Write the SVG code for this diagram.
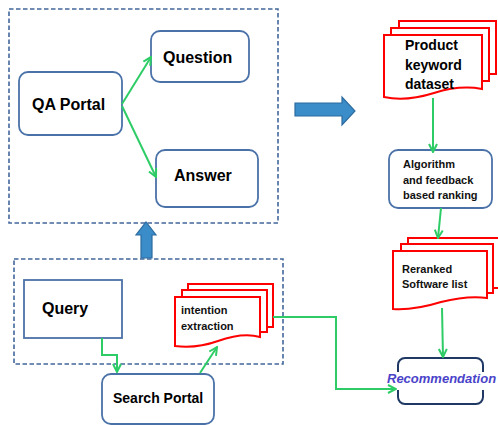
<svg xmlns="http://www.w3.org/2000/svg" width="498" height="425" viewBox="0 0 498 425">
<style>
.dash{fill:none;stroke:#41679a;stroke-width:1.6;stroke-dasharray:4.5,2.5}
.box{fill:#fff;stroke:#4b72a8;stroke-width:1.8}
.doc{fill:#fff;stroke:#ff0000;stroke-width:2}
.big{font-family:"Liberation Sans",Arial,sans-serif;font-weight:bold;font-size:16px;fill:#000}
.mid{font-family:"Liberation Sans",Arial,sans-serif;font-weight:bold;font-size:14px;fill:#000}
.sm{font-family:"Liberation Sans",Arial,sans-serif;font-weight:bold;font-size:11px;fill:#111}
.rec{font-family:"Liberation Sans",Arial,sans-serif;font-weight:bold;font-style:italic;font-size:13px;fill:#4a43c9}
.con{fill:none;stroke:#2ecc66;stroke-width:2}
.fat{fill:#3a8dc8;stroke:#2d6ba0;stroke-width:1.2}
</style>
<defs>
<marker id="ah" viewBox="0 0 10 10" refX="9" refY="5" markerWidth="10" markerHeight="10" markerUnits="userSpaceOnUse" orient="auto">
<path d="M1,1 L9,5 L1,9" fill="none" stroke="#2ecc66" stroke-width="2"/>
</marker>
</defs>

<g id="qa-area">
<rect class="dash" x="9" y="9" width="269" height="214"/>
</g>
<g id="search-area">
<rect class="dash" x="14" y="259" width="269" height="105"/>
</g>

<g id="up-arrow">
<path class="fat" d="M141,258 V235 H136 L146,222 L156,235 H152 V258 Z"/>
</g>
<g id="right-arrow">
<path class="fat" d="M295,103 H342 V97 L355,111 L342,125 V116 H295 Z"/>
</g>

<g id="qa-portal">
<rect class="box" x="19" y="72" width="103" height="63" rx="9"/>
<text class="big" x="32" y="110">QA Portal</text>
</g>
<g id="question">
<rect class="box" x="151" y="31" width="98" height="51" rx="9"/>
<text class="big" x="163" y="63">Question</text>
</g>
<g id="answer">
<rect class="box" x="156" y="150" width="102" height="57" rx="9"/>
<text class="big" x="174" y="181">Answer</text>
</g>

<g id="query">
<rect class="box" x="24" y="280" width="98" height="58"/>
<text class="big" x="42" y="314">Query</text>
</g>
<g id="intention-extraction">
<path class="doc" d="M188,284 H273 V327 H266 V290 H188 Z"/>
<path class="doc" d="M182,290 H267 V332 H260 V297 H182 Z"/>
<path class="doc" d="M175,297 H260 V337 C246,333 232,336 218,341 C204,346 190,348 175,346 Z"/>
<text class="sm" x="181" y="314">intention</text>
<text class="sm" x="181" y="330">extraction</text>
</g>
<g id="search-portal">
<rect class="box" x="102" y="374" width="112" height="50" rx="9"/>
<text class="mid" x="113" y="403">Search Portal</text>
</g>

<g id="product-keyword-dataset">
<path class="doc" d="M399,21 H496 V74 H489 V28 H399 Z"/>
<path class="doc" d="M391,28 H489 V81 H482 V35 H391 Z"/>
<path class="doc" d="M384,35 H482 V89 C466,86 450,88 434,93 C418,98 402,101 384,97 Z"/>
<text class="mid" x="405" y="50">Product</text>
<text class="mid" x="405" y="70">keyword</text>
<text class="mid" x="405" y="89">dataset</text>
</g>
<g id="algorithm">
<rect class="box" x="389" y="150" width="103" height="58" rx="9"/>
<text class="sm" x="403" y="168">Algorithm</text>
<text class="sm" x="403" y="184">and feedback</text>
<text class="sm" x="403" y="199">based ranking</text>
</g>
<g id="reranked-software-list">
<path class="doc" d="M408,238 H500 V288 H493 V244 H408 Z"/>
<path class="doc" d="M401,244 H493 V293 H487 V251 H401 Z"/>
<path class="doc" d="M393,251 H487 V298 C472,296 457,298 441,302 C425,307 409,310 393,309 Z"/>
<text class="sm" x="402" y="273">Reranked</text>
<text class="sm" x="402" y="288">Software list</text>
</g>
<g id="recommendation">
<rect x="398" y="358" width="85" height="46" rx="7" fill="#fff" stroke="#1f3864" stroke-width="2"/>
<rect x="388" y="372" width="110" height="18" fill="#fff"/>
<text class="rec" x="387" y="383">Recommendation</text>
</g>

<g id="connectors">
<path class="con" d="M122,104 L151,57" marker-end="url(#ah)"/>
<path class="con" d="M122,106 L156,177" marker-end="url(#ah)"/>
<path class="con" d="M433,98 V152" marker-end="url(#ah)"/>
<path class="con" d="M441,208 L438,238" marker-end="url(#ah)"/>
<path class="con" d="M442,308 L443,357" marker-end="url(#ah)"/>
<path class="con" d="M102,338 V355 H117 V372" marker-end="url(#ah)"/>
<path class="con" d="M200,373 L217,347" marker-end="url(#ah)"/>
<path class="con" d="M273,317 H336 V389 H396" marker-end="url(#ah)"/>
</g>
</svg>
